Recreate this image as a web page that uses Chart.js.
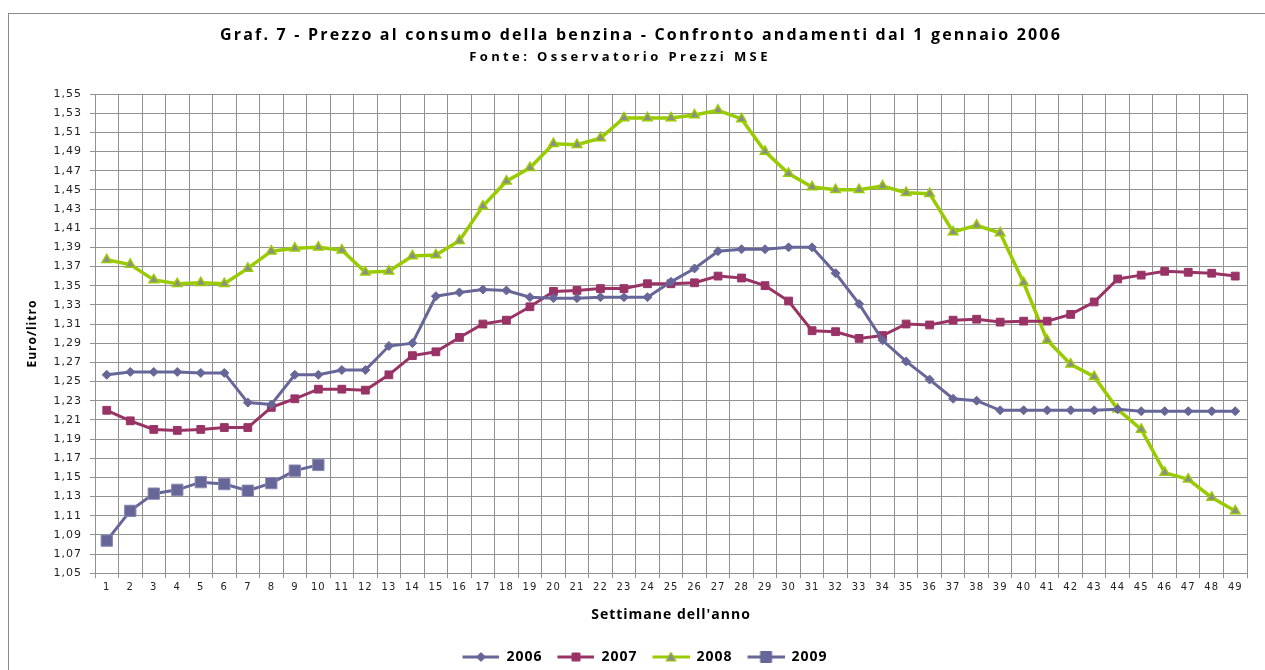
<!DOCTYPE html>
<html>
<head>
<meta charset="utf-8">
<script src="https://cdn.jsdelivr.net/npm/chart.js@4/dist/chart.umd.min.js"></script>
<style>
  html, body { margin: 0; padding: 0; background: #fff; }
  #wrap { width: 1265px; height: 670px; position: relative; }
</style>
</head>
<body>
<div id="wrap"><canvas id="c"></canvas></div>
<script>
// ---------- Data ----------
const titleText = 'Graf. 7 - Prezzo al consumo della benzina - Confronto andamenti dal 1 gennaio 2006';
const subtitleText = 'Fonte: Osservatorio Prezzi MSE';

const weeks = ['1','2','3','4','5','6','7','8','9','10','11','12','13','14','15','16','17','18','19','20',
  '21','22','23','24','25','26','27','28','29','30','31','32','33','34','35','36','37','38','39','40',
  '41','42','43','44','45','46','47','48','49'];

const y2006 = [1.257, 1.260, 1.260, 1.260, 1.259, 1.259, 1.228, 1.226, 1.257, 1.257,
  1.262, 1.262, 1.287, 1.290, 1.339, 1.343, 1.346, 1.345, 1.338, 1.337,
  1.337, 1.338, 1.338, 1.338, 1.354, 1.368, 1.386, 1.388, 1.388, 1.390,
  1.390, 1.363, 1.331, 1.293, 1.271, 1.252, 1.232, 1.230, 1.220, 1.220,
  1.220, 1.220, 1.220, 1.221, 1.219, 1.219, 1.219, 1.219, 1.219];

const y2007 = [1.220, 1.209, 1.200, 1.199, 1.200, 1.202, 1.202, 1.223, 1.232, 1.242,
  1.242, 1.241, 1.257, 1.277, 1.281, 1.296, 1.310, 1.314, 1.328, 1.344,
  1.345, 1.347, 1.347, 1.352, 1.352, 1.353, 1.360, 1.358, 1.350, 1.334,
  1.303, 1.302, 1.295, 1.298, 1.310, 1.309, 1.314, 1.315, 1.312, 1.313,
  1.313, 1.320, 1.333, 1.357, 1.361, 1.365, 1.364, 1.363, 1.360];

const y2008 = [1.377, 1.372, 1.356, 1.352, 1.353, 1.352, 1.368, 1.386, 1.389, 1.390,
  1.387, 1.364, 1.365, 1.381, 1.382, 1.397, 1.433, 1.459, 1.473, 1.498,
  1.497, 1.504, 1.525, 1.525, 1.525, 1.528, 1.533, 1.524, 1.490, 1.467,
  1.453, 1.450, 1.450, 1.454, 1.447, 1.446, 1.406, 1.413, 1.405, 1.353,
  1.293, 1.268, 1.255, 1.221, 1.200, 1.155, 1.148, 1.129, 1.115];

const y2009 = [1.084, 1.115, 1.133, 1.137, 1.145, 1.143, 1.136, 1.144, 1.157, 1.163];

const yMin = 1.05, yMax = 1.55, yStep = 0.02;

// ---------- Styles ----------
const C06 = '#666699', C07 = '#993366', C08 = '#99cc00', C09 = '#666699';
const GRID = '#929292';
const SPACING = '1px';

// little legend icons: line with the marker in the middle
function legendIcon(color, marker, fill, edge){
  const cv = document.createElement('canvas');
  cv.width = 52; cv.height = 14;
  const g = cv.getContext('2d');
  g.strokeStyle = color; g.lineWidth = 3;
  g.beginPath(); g.moveTo(15, 7); g.lineTo(52, 7); g.stroke();
  const cx = 33.5, cy = 7;
  g.fillStyle = fill; g.strokeStyle = edge || fill; g.lineWidth = 1;
  g.beginPath();
  if (marker === 'diamond'){ g.moveTo(cx, cy-4.5); g.lineTo(cx+4.5, cy); g.lineTo(cx, cy+4.5); g.lineTo(cx-4.5, cy); g.closePath(); }
  else if (marker === 'square'){ g.rect(cx-4, cy-4, 8, 8); }
  else if (marker === 'big'){ g.rect(cx-5.5, cy-5.5, 11, 11); }
  else { g.moveTo(cx, cy-5); g.lineTo(cx+5, cy+4); g.lineTo(cx-5, cy+4); g.closePath(); }
  g.fill(); g.stroke();
  return cv;
}
const icons = [
  legendIcon(C06, 'diamond', C06),
  legendIcon(C07, 'square', C07),
  legendIcon(C08, 'triangle', '#8c8c8c', C08),
  legendIcon(C09, 'big', C09)
];

const framePlugin = {
  id: 'frame',
  beforeLayout(chart){ chart.ctx.letterSpacing = SPACING; },
  afterLayout(chart){
    // legend sits a bit right of the canvas centre in the original
    if (chart.legend){ chart.legend.left += 14; chart.legend.right += 14; }
  },
  beforeDraw(chart){
    const ctx = chart.ctx;
    ctx.letterSpacing = SPACING;
    ctx.save();
    ctx.strokeStyle = '#8a8a8a';
    ctx.lineWidth = 1;
    ctx.strokeRect(8.5, 13.5, 1400, 800);
    ctx.restore();
  },
  afterDraw(chart){
    // spaced-out titles, like the PDF export
    const ctx = chart.ctx;
    ctx.save();
    ctx.fillStyle = '#000';
    ctx.textAlign = 'center';
    ctx.textBaseline = 'middle';
    ctx.font = 'bold 16px "Open Sans", sans-serif';
    ctx.letterSpacing = '2.2px';
    ctx.fillText(titleText, 641, 35);
    ctx.font = 'bold 13px "Open Sans", sans-serif';
    ctx.letterSpacing = '3.4px';
    ctx.fillText(subtitleText, 620, 57);
    ctx.restore();
  }
};

Chart.defaults.font.family = '"Open Sans", "DejaVu Sans", sans-serif';
Chart.defaults.color = '#000';

new Chart(document.getElementById('c'), {
  type: 'line',
  data: {
    labels: weeks,
    datasets: [
      { label: '2006', data: y2006, borderColor: C06, backgroundColor: C06, borderWidth: 3,
        pointStyle: 'rectRot', pointRadius: 4.5, pointBorderWidth: 1, tension: 0 },
      { label: '2007', data: y2007, borderColor: C07, backgroundColor: C07, borderWidth: 3,
        pointStyle: 'rect', pointRadius: 5.5, pointBorderWidth: 1, tension: 0 },
      { label: '2008', data: y2008, borderColor: C08, backgroundColor: '#8c8c8c', borderWidth: 3.5,
        pointStyle: 'triangle', pointRadius: 5.5, pointBorderColor: C08, pointBorderWidth: 1.5, tension: 0 },
      { label: '2009', data: y2009, borderColor: C09, backgroundColor: C09, borderWidth: 3,
        pointStyle: 'rect', pointRadius: 8, pointBorderWidth: 1, pointBorderColor: '#8888b0', tension: 0 }
    ]
  },
  options: {
    responsive: true,
    maintainAspectRatio: false,
    animation: false,
    layout: { padding: { left: 0, right: 18, top: 94, bottom: -4 } },
    plugins: {
      title: { display: false },
      legend: {
        position: 'bottom',
        labels: {
          usePointStyle: true,
          pointStyleWidth: 52,
          padding: 0,
          font: { size: 14, weight: 'bold' },
          generateLabels: (chart) => chart.data.datasets.map((ds, i) => ({
            text: ds.label,
            pointStyle: icons[i],
            fillStyle: ds.borderColor,
            strokeStyle: ds.borderColor,
            lineWidth: 0,
            hidden: false,
            datasetIndex: i
          }))
        }
      },
      tooltip: { enabled: false }
    },
    scales: {
      x: {
        offset: true,
        grid: { color: GRID, lineWidth: 1, tickLength: 5, offset: true },
        border: { color: GRID },
        ticks: { autoSkip: false, maxRotation: 0, padding: 3, color: '#222',
          font: { family: '"DejaVu Sans", sans-serif', size: 10 } },
        title: { display: true, text: "Settimane dell'anno", font: { size: 14, weight: 'bold' },
          padding: { top: 10, bottom: 27 } }
      },
      y: {
        min: yMin,
        max: yMax,
        grid: { color: GRID, lineWidth: 1, tickLength: 5 },
        border: { color: GRID },
        ticks: { stepSize: yStep, padding: 8, color: '#222',
          font: { family: '"DejaVu Sans", sans-serif', size: 11 },
          callback: (v) => Number(v).toFixed(2).replace('.', ',') },
        title: { display: true, text: 'Euro/litro', font: { size: 12, weight: 'bold' },
          padding: { top: 25, bottom: 0 } },
        afterFit: (scale) => { scale.width = 95; }
      }
    }
  },
  plugins: [framePlugin]
});
</script>
</body>
</html>
